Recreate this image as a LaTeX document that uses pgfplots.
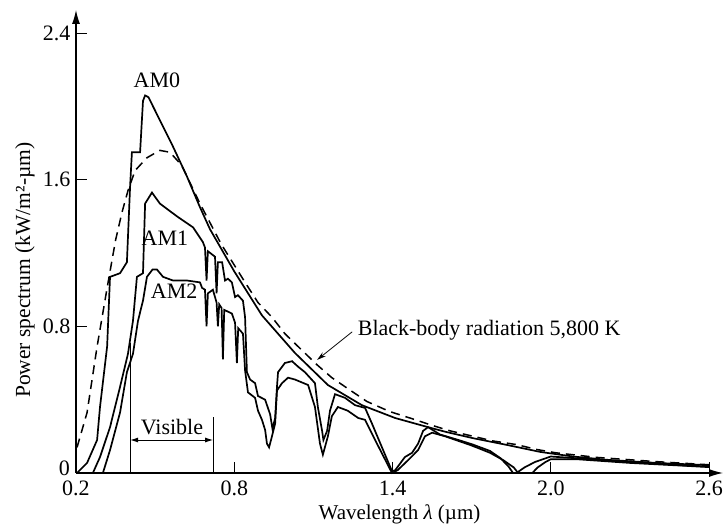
\documentclass[border=0pt]{standalone}
\usepackage{fontspec}
\setmainfont{Liberation Serif}
\usepackage{pgfplots}
\pgfplotsset{compat=1.18}
\usetikzlibrary{arrows.meta}
\begin{document}
\fontsize{22}{26}\selectfont
\begin{tikzpicture}
\path[use as bounding box] (-76pt,-59pt) rectangle (650pt,473pt);
\begin{axis}[
 at={(0pt,0pt)}, anchor=south west,
 scale only axis, width=647pt, height=463pt,
 xmin=0.2, xmax=2.653, ymin=0, ymax=2.526,
 axis lines=left,
 axis line style={line width=1.1pt, -{Latex[length=14pt,width=8pt]}},
 xtick={0.2,0.8,1.4,2.0,2.6}, xticklabels={0.2,0.8,1.4,2.0,2.6},
 ytick={0,0.8,1.6,2.4}, yticklabels={,0.8,1.6,2.4},
 tick align=inside, major tick length=11pt, tick style={line width=1pt, black},
 tick label style={font=\fontsize{22}{26}\selectfont},
 yticklabel style={xshift=2pt},
 xticklabel style={inner sep=0pt, yshift=-8pt},
 xlabel={Wavelength \textit{λ} (µm)}, ylabel={Power spectrum (kW/m²-µm)},
 x label style={font=\fontsize{21}{25}\selectfont, at={(axis description cs:0.50,0)}, anchor=center, yshift=-41pt},
 y label style={font=\fontsize{21.5}{26}\selectfont, at={(axis description cs:-0.0788,0.438)}, anchor=center},
 clip=false,
]
% AM0
\addplot[line width=1.7pt, black] coordinates {
(0.204,0.0)(0.242,0.055)(0.28,0.18)(0.291,0.36)(0.318,0.69)(0.329,1.07)(0.367,1.09)(0.393,1.15)
(0.405,1.56)(0.412,1.75)(0.443,1.75)(0.454,2.03)(0.462,2.06)(0.475,2.05)(0.492,2.0)(0.53,1.89)
(0.568,1.78)(0.62,1.62)(0.67,1.45)(0.708,1.33)(0.8,1.10)(0.905,0.86)(1.03,0.655)(1.155,0.48)
(1.284,0.37)(1.41,0.30)(1.535,0.25)(1.6,0.225)(1.705,0.19)(1.834,0.153)(1.96,0.115)(2.084,0.09)
(2.213,0.072)(2.4,0.055)(2.577,0.044)(2.6,0.04)};
% black body 5800 K
\addplot[line width=1.5pt, black, dash pattern=on 9pt off 6pt] coordinates {
(0.204,0.14)(0.242,0.33)(0.28,0.69)(0.318,1.01)(0.35,1.27)(0.374,1.42)(0.397,1.54)(0.424,1.65)
(0.469,1.72)(0.518,1.76)(0.556,1.75)(0.6,1.68)(0.67,1.47)(0.75,1.25)(0.841,1.04)(0.89,0.93)
(0.943,0.85)(0.992,0.76)(1.042,0.69)(1.114,0.59)(1.17,0.52)(1.231,0.46)(1.303,0.39)(1.39,0.335)
(1.466,0.30)(1.55,0.26)(1.618,0.23)(1.78,0.175)(1.87,0.155)(1.948,0.128)(2.02,0.11)(2.175,0.085)
(2.4,0.062)(2.6,0.045)};
% AM1
\addplot[line width=1.7pt, black] coordinates {
(0.264,0)(0.291,0.087)(0.329,0.25)(0.367,0.47)(0.397,0.65)(0.416,0.83)(0.431,1.07)(0.454,1.09)
(0.462,1.47)(0.488,1.53)(0.518,1.47)(0.583,1.40)(0.644,1.34)(0.681,1.26)(0.689,1.23)(0.695,1.05)
(0.70,1.21)(0.727,1.18)(0.733,0.98)(0.738,1.15)(0.754,1.15)(0.765,1.05)(0.776,1.06)(0.791,1.04)
(0.803,0.96)(0.814,0.97)(0.833,0.94)(0.841,0.85)(0.848,0.55)(0.86,0.51)(0.879,0.49)(0.89,0.42)
(0.917,0.40)(0.936,0.32)(0.945,0.24)(0.955,0.30)(0.962,0.47)(0.966,0.55)(0.992,0.60)(1.019,0.61)
(1.042,0.58)(1.068,0.55)(1.087,0.52)(1.106,0.49)(1.117,0.36)(1.133,0.23)(1.138,0.18)(1.152,0.23)
(1.163,0.34)(1.182,0.43)(1.22,0.41)(1.258,0.37)(1.296,0.355)(1.322,0.27)(1.36,0.14)(1.398,0.01)
(1.41,0.015)(1.447,0.087)(1.474,0.11)(1.497,0.16)(1.516,0.23)(1.535,0.25)(1.58,0.21)(1.65,0.18)
(1.705,0.155)(1.77,0.12)(1.81,0.08)(1.84,0.035)(1.857,0.0)(1.87,0.0)(1.9,0.03)(1.94,0.06)
(1.98,0.08)(2.0,0.09)(2.1,0.08)(2.3,0.06)(2.5,0.042)(2.6,0.035)};
% AM2
\addplot[line width=1.7pt, black] coordinates {
(0.302,0)(0.329,0.125)(0.367,0.33)(0.393,0.55)(0.416,0.65)(0.435,0.83)(0.454,0.94)(0.469,1.07)
(0.49,1.11)(0.507,1.11)(0.53,1.07)(0.568,1.05)(0.621,1.05)(0.67,1.04)(0.678,1.01)(0.689,1.00)
(0.695,0.80)(0.70,0.98)(0.719,1.00)(0.733,0.93)(0.738,0.80)(0.743,0.92)(0.752,0.90)(0.757,0.62)
(0.762,0.89)(0.791,0.87)(0.803,0.82)(0.81,0.60)(0.815,0.79)(0.833,0.76)(0.841,0.56)(0.852,0.44)
(0.879,0.41)(0.89,0.34)(0.905,0.29)(0.917,0.235)(0.924,0.16)(0.932,0.14)(0.943,0.20)(0.955,0.27)
(0.962,0.45)(0.981,0.49)(1.004,0.52)(1.03,0.51)(1.08,0.48)(1.106,0.36)(1.125,0.16)(1.136,0.10)
(1.155,0.20)(1.17,0.31)(1.193,0.36)(1.23,0.34)(1.27,0.30)(1.296,0.29)(1.334,0.18)(1.398,0.0)
(1.42,0.016)(1.459,0.07)(1.497,0.125)(1.523,0.20)(1.55,0.22)(1.6,0.20)(1.7,0.15)(1.77,0.11)
(1.82,0.07)(1.86,0.03)(1.876,0.0)(1.93,0.0)(1.95,0.03)(1.98,0.06)(2.0,0.075)(2.1,0.075)
(2.3,0.055)(2.5,0.04)(2.6,0.032)};
% annotations
\node[anchor=south east, inner sep=0pt, xshift=-6pt, yshift=-3pt] at (axis cs:0.2,0) {0};
\node at (axis cs:0.507,2.14) {AM0};
\node at (axis cs:0.537,1.28) {AM1};
\node at (axis cs:0.572,0.99) {AM2};
\node[anchor=west] at (axis cs:1.24,0.78) {Black-body radiation 5,800 K};
\draw[line width=0.8pt, -{Stealth[length=9pt,width=5pt]}] (axis cs:1.247,0.77) -- (axis cs:1.114,0.617);
\draw[line width=1pt] (axis cs:0.405,0) -- (axis cs:0.405,0.71);
\draw[line width=1pt] (axis cs:0.72,0) -- (axis cs:0.72,0.305);
\draw[line width=1pt, {Latex[length=8pt,width=5pt]}-{Latex[length=8pt,width=5pt]}] (axis cs:0.405,0.18) -- (axis cs:0.72,0.18);
\node at (axis cs:0.564,0.25) {Visible};
\end{axis}
\end{tikzpicture}
\end{document}
